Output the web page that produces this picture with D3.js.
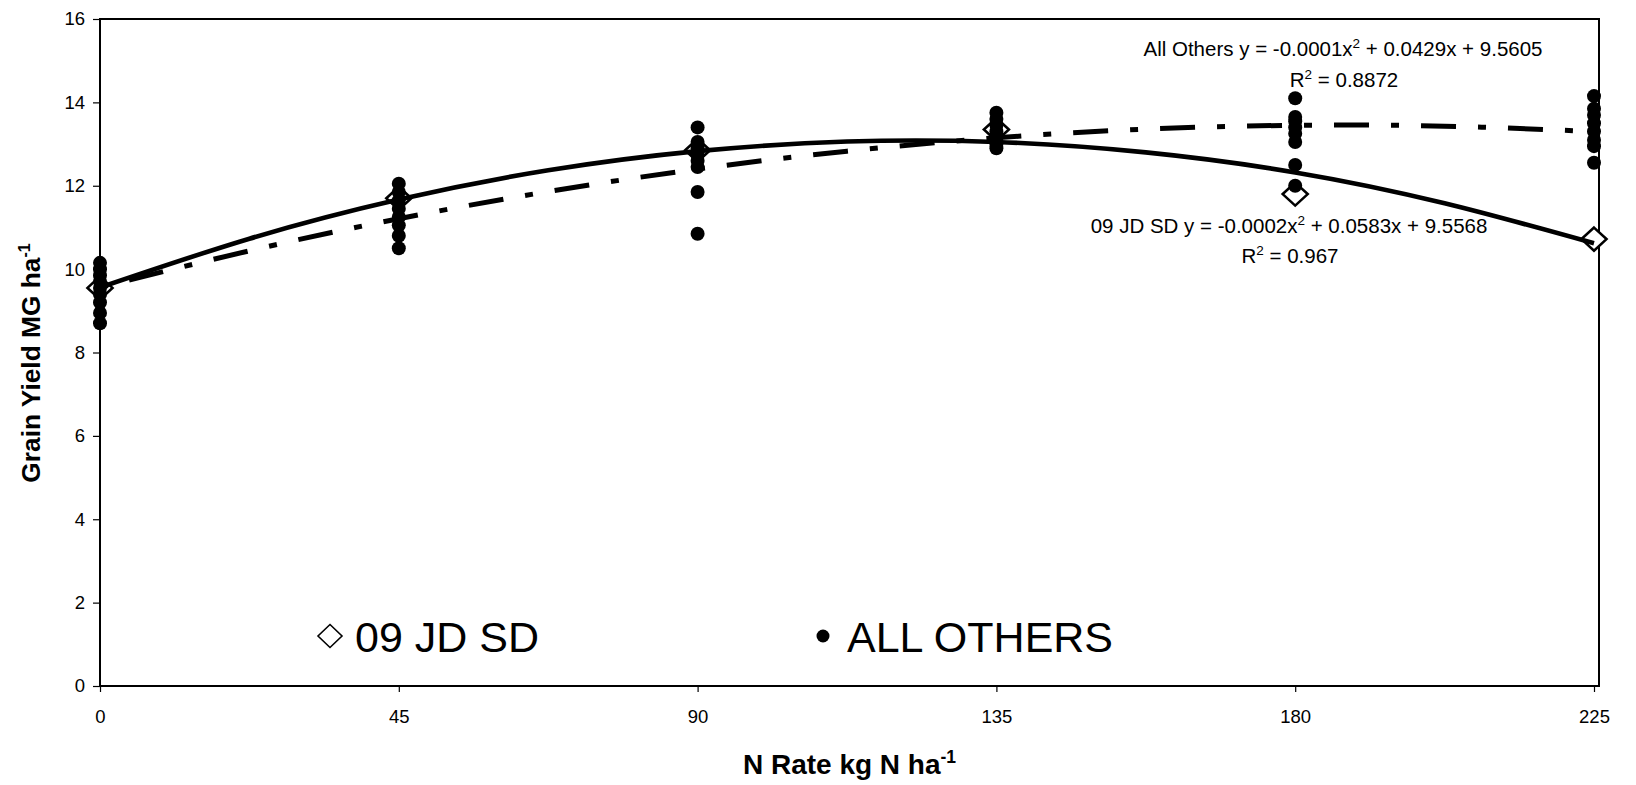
<!DOCTYPE html>
<html>
<head>
<meta charset="utf-8">
<script src="https://cdn.jsdelivr.net/npm/d3@7"></script>
<style>
  body { margin: 0; background: #fff; }
  svg { display: block; font-family: "Liberation Sans", Arial, sans-serif; }
</style>
</head>
<body>
<div id="container"></div>
<script>
const width = 1636;
const height = 785;

// N rates on the x axis
const nRates = [0, 45, 90, 135, 180, 225];
const yTicks = [0, 2, 4, 6, 8, 10, 12, 14, 16];

// 09 JD SD (open diamonds), one value per rate
const jdSdYield = [9.55, 11.7, 12.85, 13.35, 11.8, 10.72];

// All others (filled dots), several sites per rate
const others0 = [10.15, 10.0, 9.85, 9.7, 9.55, 9.4, 9.2, 8.95, 8.7];
const others45 = [12.05, 11.85, 11.65, 11.45, 11.25, 11.05, 10.8, 10.5];
const others90 = [13.4, 13.05, 12.9, 12.75, 12.6, 12.45, 11.85, 10.85];
const others135 = [13.75, 13.6, 13.45, 13.3, 13.15, 13.0, 12.9];
const others180 = [14.1, 13.65, 13.55, 13.4, 13.25, 13.05, 12.5, 12.0];
const others225 = [14.15, 13.85, 13.7, 13.5, 13.3, 13.1, 12.95, 12.55];

// trend lines
const trendRates = [0, 22.5, 45, 67.5, 90, 112.5, 135, 157.5, 180, 202.5, 225];
const trendJdSd = [9.56, 10.73, 11.67, 12.37, 12.83, 13.06, 13.05, 12.8, 12.32, 11.58, 10.62];
const trendOthers = [9.56, 10.44, 11.21, 11.86, 12.4, 12.83, 13.15, 13.36, 13.45, 13.43, 13.3];

const othersByRate = [others0, others45, others90, others135, others180, others225];
const othersPoints = [];
othersByRate.forEach((vals, i) => vals.forEach(v => othersPoints.push({ x: nRates[i], y: v })));
const jdPoints = nRates.map((r, i) => ({ x: r, y: jdSdYield[i] }));

const svg = d3.select("#container").append("svg")
  .attr("width", width)
  .attr("height", height);

svg.append("rect").attr("width", width).attr("height", height).attr("fill", "#fff");

//----------------------------SCALES----------------------------//
const xScale = d3.scaleLinear().domain([0, 225]).range([100, 1594]);
const yScale = d3.scaleLinear().domain([0, 16]).range([686, 19]);
const frameRight = 1599;

//-----------------------------AXES-----------------------------//
const yAxis = svg.append("g")
  .attr("transform", "translate(100,0)")
  .call(d3.axisLeft(yScale).tickValues(yTicks).tickSize(7).tickPadding(8));
yAxis.select(".domain").remove();
yAxis.selectAll("text").attr("font-size", 18.5).attr("fill", "#000")
  .attr("font-family", "Liberation Sans, Arial, sans-serif");
yAxis.selectAll("line").attr("stroke", "#000").attr("stroke-width", 1.2);

const xAxis = svg.append("g")
  .attr("transform", "translate(0,686)")
  .call(d3.axisBottom(xScale).tickValues(nRates).tickSize(6).tickPadding(18));
xAxis.select(".domain").remove();
xAxis.selectAll("text").attr("font-size", 18.5).attr("fill", "#000")
  .attr("font-family", "Liberation Sans, Arial, sans-serif");
xAxis.selectAll("line").attr("stroke", "#000").attr("stroke-width", 1.2);

// plot frame
svg.append("rect")
  .attr("x", 100).attr("y", yScale(16))
  .attr("width", frameRight - 100).attr("height", yScale(0) - yScale(16))
  .attr("fill", "none").attr("stroke", "#000").attr("stroke-width", 2);

// axis titles
const xTitle = svg.append("text")
  .attr("x", (100 + frameRight) / 2).attr("y", 774)
  .attr("text-anchor", "middle").attr("font-size", 28).attr("font-weight", "bold");
xTitle.append("tspan").text("N Rate kg N ha");
xTitle.append("tspan").attr("dy", -11).attr("font-size", 17.5).text("-1");

const yTitle = svg.append("text")
  .attr("transform", "translate(40,363) rotate(-90)")
  .attr("text-anchor", "middle").attr("font-size", 26.3).attr("font-weight", "bold");
yTitle.append("tspan").text("Grain Yield MG ha");
yTitle.append("tspan").attr("dy", -10).attr("font-size", 16).text("-1");

//----------------------------MARKS-----------------------------//
const diamond = (w, h) => `M0,${-h / 2}L${w / 2},0L0,${h / 2}L${-w / 2},0Z`;

svg.append("g").selectAll("path")
  .data(jdPoints)
  .enter().append("path")
  .attr("d", diamond(25, 23))
  .attr("transform", d => `translate(${xScale(d.x)},${yScale(d.y)})`)
  .attr("fill", "#fff").attr("stroke", "#000").attr("stroke-width", 2.6);

svg.append("g").selectAll("circle")
  .data(othersPoints)
  .enter().append("circle")
  .attr("cx", d => xScale(d.x)).attr("cy", d => yScale(d.y))
  .attr("r", 7).attr("fill", "#000");

const line = d3.line()
  .x(d => xScale(d[0]))
  .y(d => yScale(d[1]))
  .curve(d3.curveNatural);

svg.append("path")
  .attr("d", line(trendRates.map((r, i) => [r, trendOthers[i]])))
  .attr("fill", "none").attr("stroke", "#000").attr("stroke-width", 5)
  .attr("stroke-dasharray", "8,22,35,22");

svg.append("path")
  .attr("d", line(trendRates.map((r, i) => [r, trendJdSd[i]])))
  .attr("fill", "none").attr("stroke", "#000").attr("stroke-width", 4.6);

//--------------------------EQUATIONS---------------------------//
function eqText(cx, base, pre, sup, post) {
  const t = svg.append("text")
    .attr("x", cx).attr("y", base)
    .attr("text-anchor", "middle").attr("font-size", 20.5).attr("fill", "#000");
  t.append("tspan").text(pre);
  t.append("tspan").attr("dy", -8).attr("font-size", 13.5).text(sup);
  t.append("tspan").attr("dy", 8).text(post);
}
eqText(1343, 56, "All Others y = -0.0001x", "2", " + 0.0429x + 9.5605");
eqText(1344, 87, "R", "2", " = 0.8872");
eqText(1289, 233, "09 JD SD y = -0.0002x", "2", " + 0.0583x + 9.5568");
eqText(1290, 263, "R", "2", " = 0.967");

//----------------------------LEGEND----------------------------//
svg.append("path")
  .attr("d", diamond(24, 23))
  .attr("transform", "translate(330,636)")
  .attr("fill", "#fff").attr("stroke", "#000").attr("stroke-width", 1.6);
svg.append("text").attr("x", 355).attr("y", 652)
  .attr("font-size", 43).text("09 JD SD");

svg.append("circle").attr("cx", 823).attr("cy", 636).attr("r", 6.5).attr("fill", "#000");
svg.append("text").attr("x", 847).attr("y", 652)
  .attr("font-size", 43).text("ALL OTHERS");
</script>
</body>
</html>
